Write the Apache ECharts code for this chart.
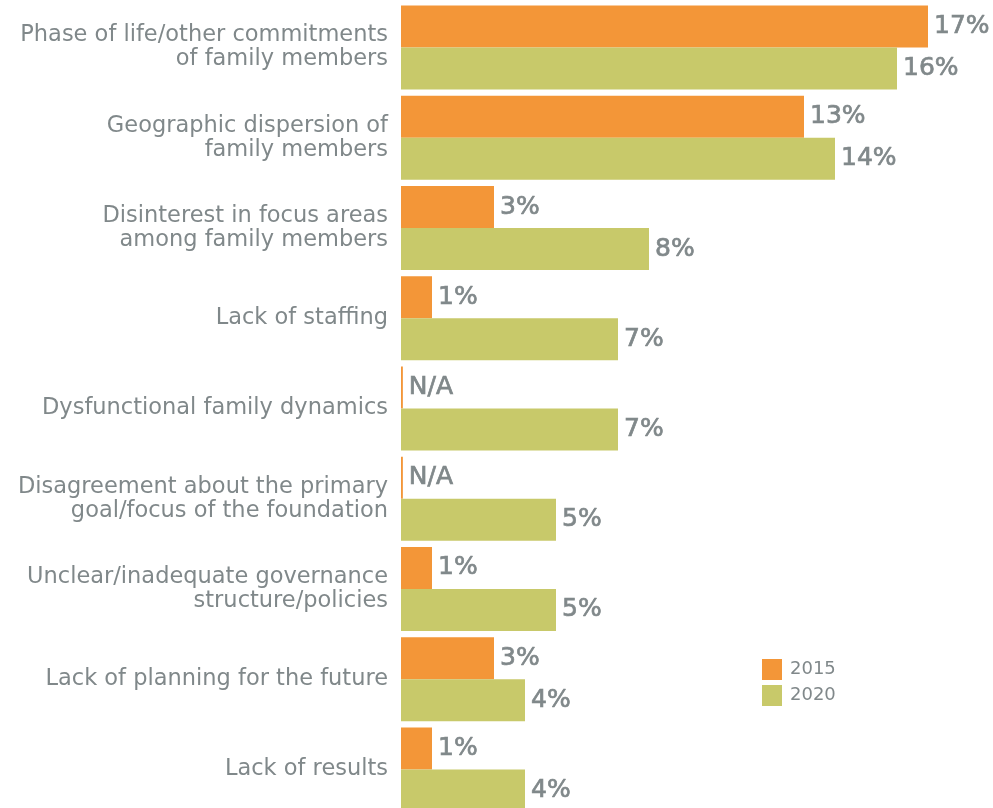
<!DOCTYPE html>
<html><head><meta charset="utf-8">
<script src="https://cdn.jsdelivr.net/npm/echarts@6/dist/echarts.min.js"></script>
<style>html,body{margin:0;padding:0;background:#fff}#c{width:993px;height:808px}</style>
</head><body><div id="c"></div>
<script>
const categories = [
  "Phase of life/other commitments\nof family members",
  "Geographic dispersion of\nfamily members",
  "Disinterest in focus areas\namong family members",
  "Lack of staffing",
  "Dysfunctional family dynamics",
  "Disagreement about the primary\ngoal/focus of the foundation",
  "Unclear/inadequate governance\nstructure/policies",
  "Lack of planning for the future",
  "Lack of results"
];
const values2015 = [17, 13, 3, 1, null, null, 1, 3, 1];
const values2020 = [16, 14, 8, 7, 7, 5, 5, 4, 4];
const naMarker = 0.06;

const gray = '#80888a';
const font = '"DejaVu Sans", sans-serif';
const chart = echarts.init(document.getElementById('c'));
const mk = (arr) => arr.map(v => v === null ? {value: naMarker, na: true} : {value: v});
const valLabel = {show: true, position: 'right', distance: 6, color: gray, fontFamily: font, fontSize: 25,
  textBorderColor: gray, textBorderWidth: 0.7};
chart.setOption({
  animation: false,
  grid: {left: 401, top: 2.4, width: 31 * 18, height: 812.2, containLabel: false, outerBoundsMode: 'none'},
  xAxis: {type: 'value', min: 0, max: 18, show: false},
  yAxis: {
    type: 'category', inverse: true, data: categories,
    axisLine: {show: false}, axisTick: {show: false},
    axisLabel: {color: gray, fontFamily: font, fontSize: 22.5, lineHeight: 24, margin: 13, align: 'right'}
  },
  legend: {
    left: 762, top: 659, padding: 0, orient: 'vertical', itemWidth: 20, itemHeight: 21, itemGap: 5,
    icon: 'rect',
    textStyle: {color: gray, fontFamily: font, fontSize: 18, padding: [0, 0, 0, 3]},
    data: ['2015', '2020']
  },
  series: [
    {
      name: '2015', type: 'bar', data: mk(values2015), barWidth: 42, barGap: '0%', barCategoryGap: '8%',
      itemStyle: {color: '#F39638'},
      label: Object.assign({}, valLabel, {formatter: p => p.data.na ? 'N/A' : p.value + '%'})
    },
    {
      name: '2020', type: 'bar', data: mk(values2020), barWidth: 42,
      itemStyle: {color: '#C8C96A'},
      label: Object.assign({}, valLabel, {formatter: p => p.value + '%'})
    }
  ]
});
</script></body></html>
